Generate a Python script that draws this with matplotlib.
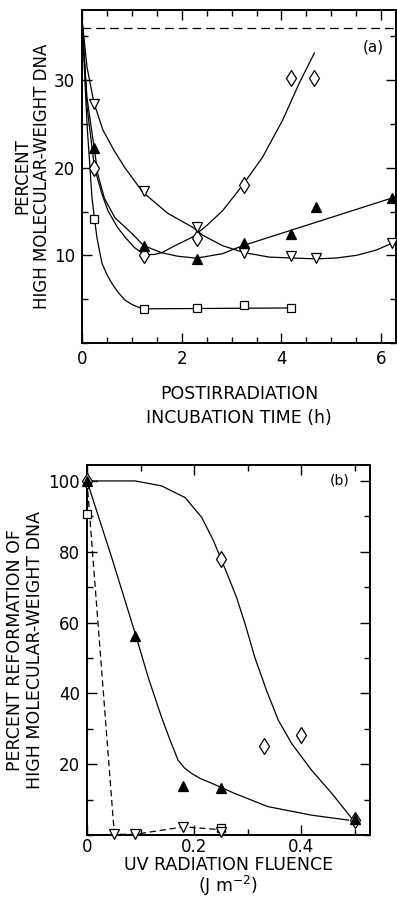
import matplotlib
matplotlib.use('Agg')
import matplotlib.pyplot as plt
from matplotlib.ticker import MultipleLocator, FixedLocator

plt.rcParams['font.family'] = ['DejaVu Sans']

# ---- panel (a): % high molecular weight DNA vs incubation time ----
a_time = [0.25, 1.25, 2.3, 3.25, 4.2, 4.65]
a_diamond = [20, 10, 12, 18, 30.2, 30.2]
a_tri_open_x = [0.25, 1.25, 2.3, 3.25, 4.2, 4.7, 6.22]
a_tri_open = [27.3, 17.3, 13.2, 10.3, 9.9, 9.7, 11.4]
a_tri_fill_x = [0.25, 1.25, 2.3, 3.25, 4.2, 4.7, 6.22]
a_tri_fill = [22.2, 11.1, 9.6, 11.4, 12.4, 15.5, 16.6]
a_square_x = [0.25, 1.25, 2.3, 3.25, 4.2]
a_square = [14.2, 3.9, 4.0, 4.3, 4.0]
a_control = 36

# hand-drawn fit lines
fit_dia_x = [0, 0.1, 0.25, 0.4, 0.52, 0.7, 0.86, 1.05, 1.24, 1.45, 1.6, 1.86, 2.22,
             2.5, 2.82, 3.22, 3.62, 4.02, 4.36, 4.66]
fit_dia_y = [37, 27, 20, 17, 15.1, 13.3, 12.1, 10.9, 10.1, 10.1, 10.3, 11.1, 12.1,
             13.4, 15.1, 18, 21.2, 25.4, 29.7, 33.1]
fit_tro_x = [0, 0.1, 0.24, 0.42, 0.65, 0.86, 1.22, 1.72, 2.22, 2.42, 2.82, 3.26,
             3.76, 4.22, 4.7, 5.1, 5.5, 5.9, 6.3]
fit_tro_y = [37, 31.5, 27.4, 24.3, 21.9, 20, 17.2, 14.8, 13.2, 12.3, 11.1, 10.3,
             9.8, 9.7, 9.6, 9.7, 10, 10.6, 11.6]
fit_trf_x = [0, 0.1, 0.25, 0.32, 0.45, 0.66, 1.0, 1.24, 1.6, 1.92, 2.26, 2.42,
             2.82, 3.22, 6.3]
fit_trf_y = [37, 28, 22, 19.2, 16.5, 14.3, 12.5, 11.1, 10.3, 9.9, 9.7, 9.8,
             10.2, 11.1, 16.7]
fit_sq_x = [0, 0.1, 0.2, 0.25, 0.3, 0.4, 0.5, 0.6, 0.72, 0.86, 1.0, 1.12, 1.25, 4.2]
fit_sq_y = [37, 25, 16.6, 14.2, 12, 9.1, 7.8, 6.8, 5.8, 4.9, 4.4, 4.1, 3.9, 4.0]

# ---- panel (b): % reformation vs UV fluence ----
b_dia_x = [0.0, 0.25, 0.33, 0.40, 0.50]
b_dia = [100, 78, 25.1, 28.2, 4.2]
b_trf_x = [0.0, 0.09, 0.18, 0.25, 0.50]
b_trf = [100, 56.3, 13.8, 13.2, 4.4]
b_tro_x = [0.051, 0.09, 0.18, 0.25]
b_tro = [0.2, 0.2, 2.3, 0.9]
b_sq_x = [0.0, 0.25]
b_sq = [90.7, 2.1]

fitb_dia_x = [0, 0.05, 0.09, 0.139, 0.183, 0.214, 0.236, 0.25, 0.264, 0.279, 0.295,
              0.313, 0.335, 0.357, 0.382, 0.419, 0.457, 0.494]
fitb_dia_y = [100, 100, 100, 98.6, 95.3, 89.7, 83.1, 78, 72.8, 67.1, 59.6,
              50.2, 40.8, 32.4, 25.8, 18.3, 11.7, 4.7]
fitb_trf_x = [0, 0.046, 0.09, 0.114, 0.139, 0.155, 0.170, 0.182, 0.195, 0.212,
              0.233, 0.276, 0.338, 0.419, 0.488]
fitb_trf_y = [100, 78.4, 56.9, 44.6, 33.3, 26.8, 21.1, 18.9, 17.4, 15.9,
              14.6, 11.7, 8.0, 5.6, 4.2]
fitb_dash_x = [0, 0.051, 0.09, 0.18, 0.25]
fitb_dash_y = [100, 0.2, 0.2, 2.3, 1.5]

fig = plt.figure(figsize=(3.97, 8.99), dpi=100)
ax1 = fig.add_axes([82/397, 1-343/899, 1-82/397-0.002, (343-10)/899])
ax2 = fig.add_axes([87/397, 1-835/899, (370-87)/397, (835-465)/899])

lw = 0.9
mk = dict(linestyle='none', markeredgecolor='black', markeredgewidth=0.9,
          clip_on=False, zorder=3)

# panel (a)
ax1.axhline(a_control, color='black', lw=lw, dashes=(7, 4))
ax1.plot(fit_dia_x, fit_dia_y, color='black', lw=lw)
ax1.plot(fit_tro_x, fit_tro_y, color='black', lw=lw)
ax1.plot(fit_trf_x, fit_trf_y, color='black', lw=lw)
ax1.plot(fit_sq_x, fit_sq_y, color='black', lw=lw)
ax1.plot(a_time, a_diamond, marker='d', ms=8.5, markerfacecolor='white', **mk)
ax1.plot(a_tri_open_x, a_tri_open, marker='v', ms=7, markerfacecolor='white', **mk)
ax1.plot(a_tri_fill_x, a_tri_fill, marker='^', ms=7, markerfacecolor='black', **mk)
ax1.plot(a_square_x, a_square, marker='s', ms=6, markerfacecolor='white', **mk)

ax1.set_xlim(0, 6.3)
ax1.set_ylim(0, 38)
ax1.xaxis.set_major_locator(FixedLocator([0, 2, 4, 6]))
ax1.xaxis.set_minor_locator(MultipleLocator(0.5))
ax1.yaxis.set_major_locator(FixedLocator([10, 20, 30]))
ax1.yaxis.set_minor_locator(MultipleLocator(5))
ax1.text(6.05, 33.8, '(a)', ha='right', va='center', fontsize=11)
ax1.set_ylabel('PERCENT\nHIGH MOLECULAR-WEIGHT DNA', fontsize=12, labelpad=2,
               linespacing=1.15)
ax1.set_xlabel('POSTIRRADIATION\nINCUBATION TIME (h)', fontsize=12.5, labelpad=12,
               linespacing=1.45)

# panel (b)
ax2.plot(fitb_dia_x, fitb_dia_y, color='black', lw=lw)
ax2.plot(fitb_trf_x, fitb_trf_y, color='black', lw=lw)
ax2.plot(fitb_dash_x, fitb_dash_y, color='black', lw=lw, dashes=(5, 3))
ax2.plot(b_dia_x, b_dia, marker='d', ms=8.5, markerfacecolor='white', **mk)
ax2.plot(b_trf_x, b_trf, marker='^', ms=7, markerfacecolor='black', **mk)
ax2.plot(b_sq_x, b_sq, marker='s', ms=5.5, markerfacecolor='white', **mk)
ax2.plot(b_tro_x, b_tro, marker='v', ms=7, markerfacecolor='white', **mk)

ax2.set_xlim(0, 0.528)
ax2.set_ylim(0, 104.5)
ax2.xaxis.set_major_locator(FixedLocator([0, 0.2, 0.4]))
ax2.xaxis.set_minor_locator(MultipleLocator(0.1))
ax2.yaxis.set_major_locator(FixedLocator([20, 40, 60, 80, 100]))
ax2.yaxis.set_minor_locator(MultipleLocator(10))
ax2.set_xticklabels(['0', '0.2', '0.4'])
ax2.text(0.49, 100, '(b)', ha='right', va='center', fontsize=10)
ax2.set_ylabel('PERCENT REFORMATION OF\nHIGH MOLECULAR-WEIGHT DNA', fontsize=12.5,
               labelpad=3, linespacing=1.15)
ax2.set_xlabel('UV RADIATION FLUENCE\n(J m$^{-2}$)', fontsize=12.5, labelpad=0,
               linespacing=1.0)

for ax in (ax1, ax2):
    for s in ax.spines.values():
        s.set_linewidth(1.4)
    ax.tick_params(which='both', direction='in', top=True, right=True, width=1.0,
                   labelsize=12, pad=5)
    ax.tick_params(which='major', length=7)
    ax.tick_params(which='minor', length=4)
ax2.tick_params(axis='x', pad=2)

fig.savefig('out.png', dpi=100)
